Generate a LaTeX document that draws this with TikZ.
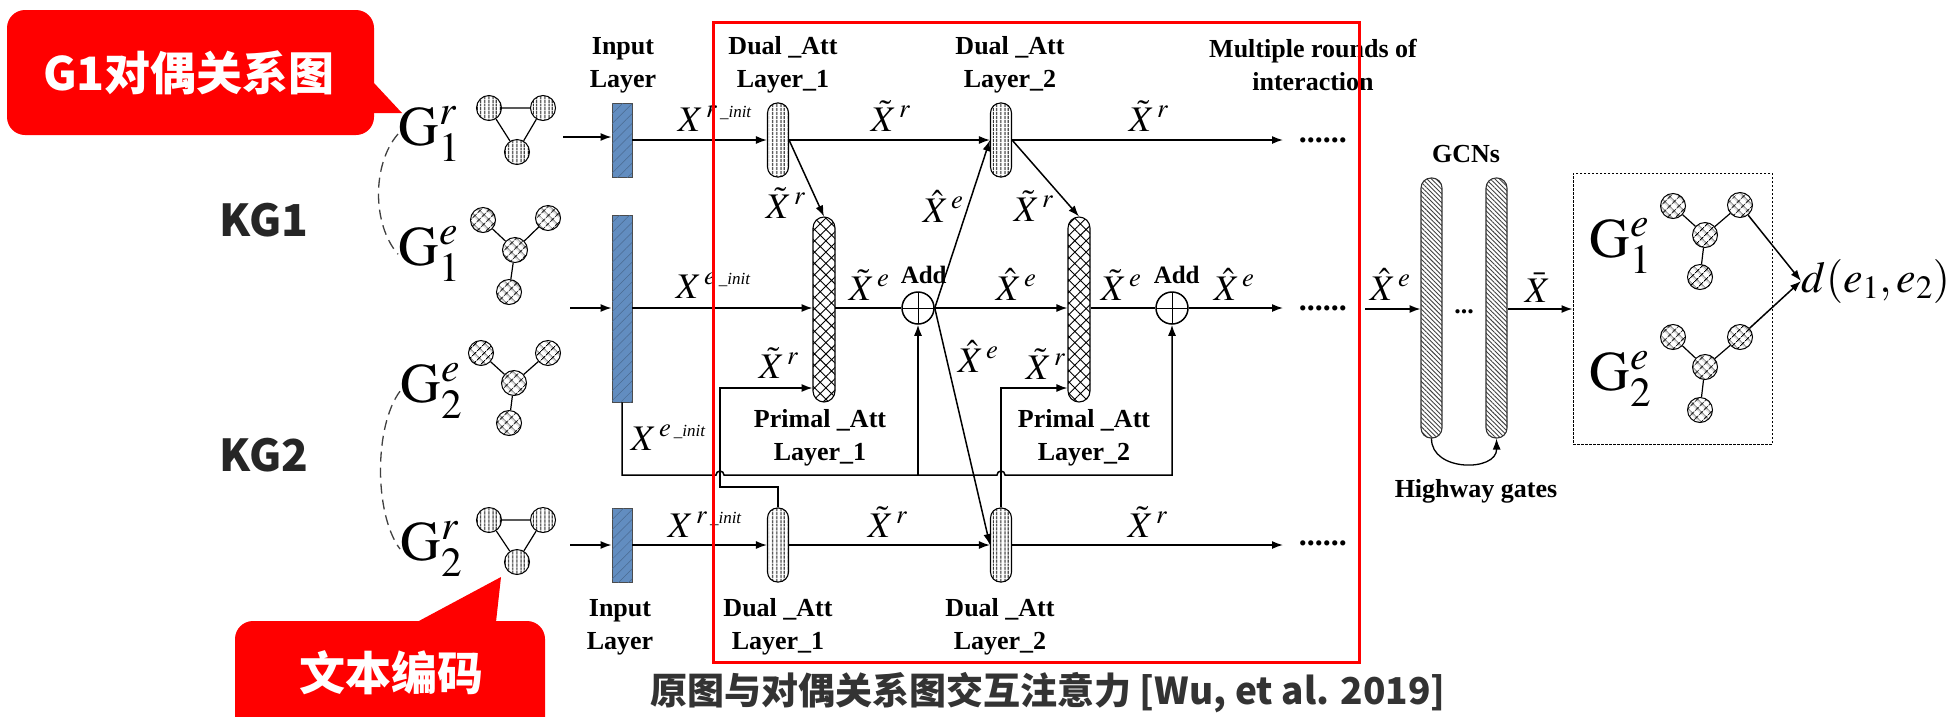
\documentclass[tikz,border=0pt]{standalone}
\usepackage{mathptmx}
\usepackage[no-math]{fontspec}
\setmainfont{Liberation Serif}
\newfontfamily\cjk{Noto Sans CJK SC}
\usetikzlibrary{arrows.meta,patterns.meta,calc}

\definecolor{inblue}{RGB}{98,141,192}
\definecolor{kggray}{RGB}{38,38,38}

\newcommand\xinit[1]{$X^{\,#1\,\hbox{\fontsize{17}{17}\selectfont\_\textit{init}}}$}

\tikzset{
  arr/.style={-{Latex[length=11pt,width=8pt]}},
  inlayer/.style={draw=black!70,line width=0.9pt,fill=inblue,minimum width=20pt,inner sep=0pt,
    postaction={pattern={Lines[angle=45,distance=7pt,line width=0.5pt]},pattern color=inblue!75!black}},
  dualatt/.style={draw,line width=1.1pt,rounded corners=10pt,minimum width=21pt,minimum height=74pt,inner sep=0pt,
    pattern={Lines[angle=90,distance=4pt,line width=1.1pt]}},
  primatt/.style={draw,line width=1.1pt,rounded corners=11pt,minimum width=22pt,minimum height=185pt,inner sep=0pt,
    pattern={Hatch[angle=45,distance=8pt,line width=0.9pt]}},
  gcnbar/.style={draw=black!80,line width=1.1pt,rounded corners=10pt,minimum width=21pt,minimum height=260pt,inner sep=0pt,
    pattern={Lines[angle=-45,distance=3.2pt,line width=0.9pt]},pattern color=black!75},
  addop/.style={circle,draw,line width=1.5pt,minimum size=32pt,inner sep=0pt,
    path picture={\draw[line width=1pt] (path picture bounding box.north) -- (path picture bounding box.south)
      (path picture bounding box.west) -- (path picture bounding box.east);}},
  vring/.style={circle,draw,line width=1pt,minimum size=25pt,inner sep=0pt,
    pattern={Lines[angle=90,distance=4pt,line width=1.1pt]}},
  xring/.style={circle,draw,line width=1pt,minimum size=25pt,inner sep=0pt,
    pattern={Hatch[angle=45,distance=6.5pt,line width=0.9pt]}},
  gedge/.style={line width=1.2pt},
  boldlab/.style={font=\fontsize{26}{33}\selectfont\bfseries,align=center,inner sep=0pt},
  mathlab/.style={font=\fontsize{36}{36}\selectfont,inner sep=0pt,anchor=base west},
  gralab/.style={font=\fontsize{56}{56}\selectfont,inner sep=0pt,anchor=base west},
  ellip/.style={font=\fontsize{32}{32}\selectfont\bfseries,inner sep=0pt,anchor=base west},
  callouttext/.style={font=\cjk\bfseries\fontsize{46}{46}\selectfont,text=white,inner sep=0pt},
  kglab/.style={font=\cjk\bfseries\fontsize{44}{44}\selectfont,text=kggray,inner sep=0pt},
  captlab/.style={font=\cjk\bfseries\fontsize{37}{37}\selectfont,text=black!80,inner sep=0pt},
  gdash/.style={line width=1.3pt,black!75,dash pattern=on 10pt off 6pt}
}

\begin{document}
\begin{tikzpicture}[x=1pt,y=-1pt,line width=1.5pt]
\useasboundingbox (0,0) rectangle (1949,716);
\clip (0,0) rectangle (1949,716);

% callouts
\fill[red,rounded corners=18pt] (7,10) rectangle (374,135);
\fill[red] (374,83) -- (402,113) -- (374,113) -- cycle;
\node[callouttext] (c1) at (189,73) {G1对偶关系图};
\fill[red,rounded corners=18pt] (235,621) rectangle (545,770);
\fill[red] (417,622) -- (501,577) -- (496,622) -- cycle;
\node[callouttext] (c2) at (391,673) {文本编码};

% KG names
\node[kglab] (kg1) at (264,220) {KG1};
\node[kglab] (kg2) at (264,455) {KG2};

% graph labels
\node[gralab] (gr1) at (398,145) {$\mathrm{G}_1^{r}$};
\node[gralab] (ge1) at (398,265) {$\mathrm{G}_1^{e}$};
\node[gralab] (ge2) at (400,402) {$\mathrm{G}_2^{e}$};
\node[gralab] (gr2) at (400,560) {$\mathrm{G}_2^{r}$};
\draw[gdash] (gr1.west) .. controls +(-26,30) and +(-26,-30) .. (ge1.west);
\draw[gdash] (ge2.west) .. controls +(-26,35) and +(-26,-35) .. (gr2.west);

% small graphs
\node[vring] (r1a) at (489,108) {};
\node[vring] (r1b) at (543,108) {};
\node[vring] (r1c) at (517,152) {};
\draw[gedge] (r1a) -- (r1b) (r1a) -- (r1c) (r1b) -- (r1c);
\node[xring] (e1a) at (483,220) {};
\node[xring] (e1b) at (548,218) {};
\node[xring] (e1c) at (515,250) {};
\node[xring] (e1d) at (509,292) {};
\draw[gedge] (e1a) -- (e1c) (e1b) -- (e1c) (e1c) -- (e1d);
\node[xring] (e2a) at (481,353) {};
\node[xring] (e2b) at (548,353) {};
\node[xring] (e2c) at (514,383) {};
\node[xring] (e2d) at (509,423) {};
\draw[gedge] (e2a) -- (e2c) (e2b) -- (e2c) (e2c) -- (e2d);
\node[vring] (r2a) at (489,520) {};
\node[vring] (r2b) at (543,520) {};
\node[vring] (r2c) at (517,562) {};
\draw[gedge] (r2a) -- (r2b) (r2a) -- (r2c) (r2b) -- (r2c);

% input layer
\node[inlayer,minimum height=74pt] (inr1) at (622,140) {};
\node[inlayer,minimum height=187pt] (ine) at (622,308.5) {};
\node[inlayer,minimum height=74pt] (inr2) at (622,545) {};
\coordinate (s1) at (563,137);
\coordinate (s2) at (570,308);
\coordinate (s3) at (570,545);
\draw[arr] (s1) -- (s1 -| inr1.west);
\draw[arr] (s2) -- (s2 -| ine.west);
\draw[arr] (s3) -- (inr2.west);

% attention layers
\node[dualatt] (d1t) at (778,140) {};
\node[dualatt] (d2t) at (1001,140) {};
\node[dualatt] (d1b) at (778,545) {};
\node[dualatt] (d2b) at (1001,545) {};
\node[primatt] (p1) at (824,309.5) {};
\node[primatt] (p2) at (1079,309.5) {};
\node[addop] (a1) at (918,308) {};
\node[addop] (a2) at (1172,308) {};
\node[ellip] (mt) at (1298,142) {......};
\node[ellip] (mm) at (1298,310) {......};
\node[ellip] (mb) at (1298,545) {......};

% top row
\draw[arr] (inr1) -- (d1t);
\draw[arr] (d1t) -- (d2t);
\draw[arr,shorten >=15pt] (d2t) -- (d2t -| mt.west);
\draw[arr] (d1t.east) -- (p1.north);
\draw[arr] (d2t.east) -- (p2.north);

% middle row
\draw[arr] (ine.east |- a1) -- (a1 -| p1.west);
\draw (p1.east |- a1) -- (a1.west);
\draw[arr] (a1.east) -- (a1 -| p2.west);
\draw (p2.east |- a2) -- (a2.west);
\draw[arr,shorten >=15pt] (a2.east) -- (a2 -| mm.west);
\draw[arr] (a1.east) -- (d2t.west);
\draw[arr] (a1.east) -- (d2b.west);

% init bus
\coordinate (bus) at (622,475);
\coordinate (k1) at (720,487);
\coordinate (q1) at (0,388);
\draw[arr] (ine.south) -- (bus) -- (716,475) arc (180:360:4) -- (997,475) arc (180:360:4) -- (a2 |- bus) -- (a2.south);
\draw[arr] (a1 |- bus) -- (a1.south);
\draw[arr] (d1b.north) |- (k1) |- (p1.west |- q1);
\draw[arr] (d2b.north) |- (p2.west |- q1);

% bottom row
\draw[arr] (inr2) -- (d1b);
\draw[arr] (d1b) -- (d2b);
\draw[arr,shorten >=15pt] (d2b) -- (d2b -| mb.west);

% math labels
\node[mathlab] (l1) at (677,131) {\xinit{r}};
\node[mathlab] (l2) at (870,131) {$\tilde{X}^{\,r}$};
\node[mathlab] (l3) at (1128,131) {$\tilde{X}^{\,r}$};
\node[mathlab] (l4) at (675,298) {\xinit{e}};
\node[mathlab] (l5) at (848,300) {$\tilde{X}^{\,e}$};
\node[mathlab] (l6) at (995,300) {$\hat{X}^{\,e}$};
\node[mathlab] (l7) at (1100,300) {$\tilde{X}^{\,e}$};
\node[mathlab] (l8) at (1213,300) {$\hat{X}^{\,e}$};
\node[mathlab] (l9) at (765,218) {$\tilde{X}^{\,r}$};
\node[mathlab] (l10) at (1013,221) {$\tilde{X}^{\,r}$};
\node[mathlab] (l11) at (922,222) {$\hat{X}^{\,e}$};
\node[mathlab] (l12) at (957,372) {$\hat{X}^{\,e}$};
\node[mathlab] (l13) at (758,378) {$\tilde{X}^{\,r}$};
\node[mathlab] (l14) at (1025,379) {$\tilde{X}^{\,r}$};
\node[mathlab] (l15) at (630,450) {\xinit{e}};
\node[mathlab] (l16) at (667,537) {\xinit{r}};
\node[mathlab] (l17) at (867,537) {$\tilde{X}^{\,r}$};
\node[mathlab] (l18) at (1127,537) {$\tilde{X}^{\,r}$};
\node[boldlab,anchor=base west,font=\fontsize{25}{25}\selectfont\bfseries] (add1) at (900,283) {Add};
\node[boldlab,anchor=base west,font=\fontsize{25}{25}\selectfont\bfseries] (add2) at (1153,283) {Add};

% layer names
\node[boldlab] (inlt) at (623,65) {Input\\Layer};
\node[boldlab] (dalt1) at (783,65) {Dual \_Att\\Layer\_1};
\node[boldlab] (dalt2) at (1010,65) {Dual \_Att\\Layer\_2};
\node[boldlab] (multi) at (1313,65) {Multiple rounds of\\interaction};
\node[boldlab] (pal1) at (820,438) {Primal \_Att\\Layer\_1};
\node[boldlab] (pal2) at (1084,438) {Primal \_Att\\Layer\_2};
\node[boldlab] (inlb) at (620,627) {Input\\Layer};
\node[boldlab] (dalb1) at (778,627) {Dual \_Att\\Layer\_1};
\node[boldlab] (dalb2) at (1000,627) {Dual \_Att\\Layer\_2};

% red frame
\draw[red,line width=3pt] (713,22) rectangle (1359,662);

% GCNs
\node[gcnbar] (gcn1) at (1431.5,308) {};
\node[gcnbar] (gcn2) at (1496.5,308) {};
\node[boldlab,anchor=base] (gdots) at (1464,313) {...};
\node[boldlab,anchor=base] (gcnl) at (1466,162) {GCNs};
\node[boldlab,anchor=base] (hwl) at (1476,497) {Highway gates};
\coordinate (s4) at (1365,309);
\draw[arr] (s4) -- (s4 -| gcn1.west);
\node[mathlab] (l19) at (1369,300) {$\hat{X}^{\,e}$};
\draw[arr,line width=1.3pt] (gcn1.south) .. controls (1431,472) and (1497,472) .. (gcn2.south);

% comparison
\node[draw,line width=1pt,dash pattern=on 2.5pt off 1.5pt,minimum width=199pt,minimum height=271pt,inner sep=0pt] (cmp) at (1672.5,308.5) {};
\draw[arr] (gcn2.east |- s4) -- (s4 -| cmp.west);
\node[mathlab] (l20) at (1524,302) {$\bar{X}$};
\node[gralab] (gh1) at (1589,257) {$\mathrm{G}_1^{e}$};
\node[gralab] (gh2) at (1589,390) {$\mathrm{G}_2^{e}$};
\node[xring] (h1a) at (1673,206) {};
\node[xring] (h1b) at (1740,205) {};
\node[xring] (h1c) at (1705,235) {};
\node[xring] (h1d) at (1700,277) {};
\draw[gedge] (h1a) -- (h1c) (h1b) -- (h1c) (h1c) -- (h1d);
\node[xring] (h2a) at (1673,337) {};
\node[xring] (h2b) at (1740,337) {};
\node[xring] (h2c) at (1705,367) {};
\node[xring] (h2d) at (1700,410) {};
\draw[gedge] (h2a) -- (h2c) (h2b) -- (h2c) (h2c) -- (h2d);
\node[mathlab,font=\fontsize{44}{44}\selectfont] (dd) at (1801,292) {$d(e_1,e_2)$};
\draw[arr] (h1b) -- (dd.west);
\draw[arr] (h2b) -- (dd.west);

% caption
\node[captlab] (cap) at (1048,693) {原图与对偶关系图交互注意力 [Wu, et al. 2019]};
\end{tikzpicture}
\end{document}
